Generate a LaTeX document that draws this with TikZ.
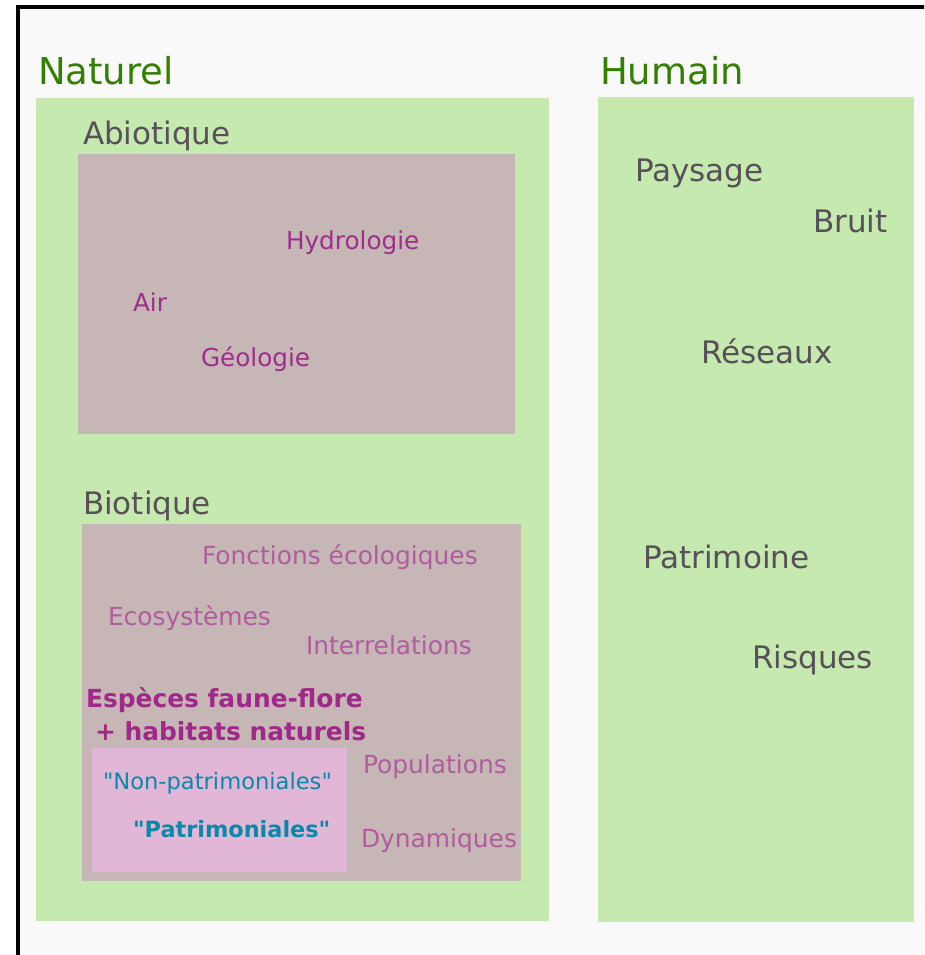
\documentclass[tikz,border=0pt]{standalone}
\usepackage{fontspec}
\setmainfont{DejaVu Sans}
\definecolor{bgc}{HTML}{F9F9F9}
\definecolor{boxgreen}{HTML}{C6E9AF}
\definecolor{boxbrown}{HTML}{C6B6B5}
\definecolor{boxpink}{HTML}{E1B6D7}
\definecolor{titlegreen}{HTML}{338000}
\definecolor{graytxt}{HTML}{585058}
\definecolor{magA}{HTML}{A02C8C}
\definecolor{magB}{HTML}{B05C9E}
\definecolor{magC}{HTML}{A0288A}
\definecolor{teal}{HTML}{0A88A8}
\newcommand{\sq}{\XeTeXglyph\XeTeXcharglyph34\relax}
\tikzset{
  lbl/.style={anchor=base west, inner sep=0pt, outer sep=0pt},
  title/.style={lbl, text=titlegreen, font=\fontsize{37}{40}\selectfont},
  cat/.style={lbl, text=graytxt, font=\fontsize{31}{34}\selectfont},
  abio/.style={lbl, text=magA, font=\fontsize{24.7}{28}\selectfont},
  bio/.style={lbl, text=magB, font=\fontsize{24.9}{28}\selectfont},
  esp/.style={lbl, text=magC, font=\bfseries\fontsize{24.9}{28}\selectfont},
  pat/.style={lbl, text=teal, font=\fontsize{22.6}{28}\selectfont},
  patb/.style={lbl, text=teal, font=\bfseries\fontsize{22.4}{28}\selectfont},
}
\begin{document}
\begin{tikzpicture}[x=1pt,y=-1pt]
\useasboundingbox (0,0) rectangle (924,955);
\begin{scope}
\clip (0,0) rectangle (924,955);
\fill[white] (0,0) rectangle (924,955);
\draw[line width=4pt, fill=bgc] (18,7) rectangle (940,975);
\end{scope}
% boxes
\fill[boxgreen] (36,98) rectangle (549,921);
\fill[boxgreen] (598,97) rectangle (914,922);
\fill[boxbrown] (78,154) rectangle (515,434);
\fill[boxbrown] (82,524) rectangle (521,880.5);
\fill[boxpink] (92,748) rectangle (346.5,872);
% titles
\node[title] (naturel) at (38,85) {Naturel};
\node[title] (humain) at (600,85) {Humain};
\node[cat] (abiotique) at (83,144) {Abiotique};
\node[cat] (biotique) at (83,514) {Biotique};
% abiotic
\node[abio] (hydro) at (286,249) {Hydrologie};
\node[abio] (air) at (133,311) {Air};
\node[abio] (geo) at (201,366) {Géologie};
% biotic
\node[bio] (fonctions) at (202,564) {Fonctions écologiques};
\node[bio] (ecosys) at (108,625) {Ecosystèmes};
\node[bio] (interrel) at (306,654) {Interrelations};
\node[esp] (especes) at (86,707) {Espèces faune-flore};
\node[esp] (habitats) at (95,740) {+ habitats naturels};
\node[bio] (popul) at (363,773) {Populations};
\node[bio] (dyna) at (361,847) {Dynamiques};
\node[pat] (nonpat) at (103,789) {\sq Non-patrimoniales\sq};
\node[patb] (patri) at (133,837) {\sq Patrimoniales\sq};
% humain
\node[cat] (paysage) at (635,181) {Paysage};
\node[cat] (bruit) at (813,232.5) {Bruit};
\node[cat] (reseaux) at (701,363) {Réseaux};
\node[cat] (patrimoine) at (643,568) {Patrimoine};
\node[cat] (risques) at (752,668) {Risques};
\end{tikzpicture}
\end{document}
